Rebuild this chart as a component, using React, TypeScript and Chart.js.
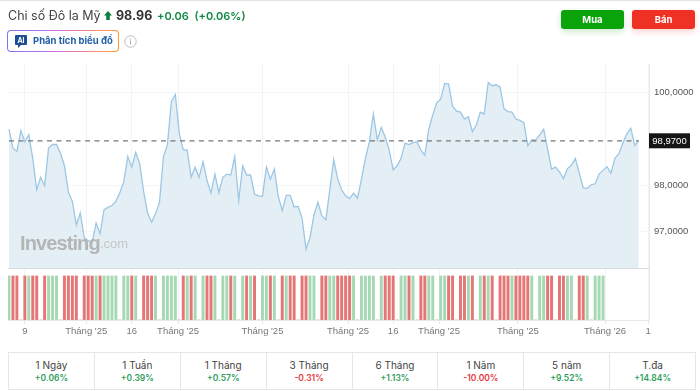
import React, { useEffect, useRef } from "react";
import { Chart, registerables } from "chart.js";

Chart.register(...registerables);

const closeValues = [
  99.21, 98.80, 98.73, 99.18, 98.94, 99.09, 98.58, 97.90, 98.17, 97.99,
  98.81, 98.88, 98.88, 98.69, 98.42, 97.85, 97.65, 97.14, 97.40, 96.87,
  96.80, 96.77, 97.18, 96.95, 97.47, 97.52, 97.56, 97.65, 97.84, 98.08,
  98.62, 98.39, 98.71, 98.47, 97.86, 97.40, 97.20, 97.38, 97.63, 98.62,
  98.87, 99.81, 99.96, 99.12, 98.77, 98.76, 98.17, 98.39, 98.17, 98.51,
  98.10, 97.83, 98.24, 97.84, 98.17, 98.24, 98.22, 98.62, 97.67, 98.42,
  98.22, 98.22, 97.81, 97.77, 97.76, 98.39, 98.13, 98.35, 97.76, 97.45,
  97.78, 97.78, 97.53, 97.54, 97.29, 96.62, 96.87, 97.36, 97.63, 97.34,
  97.25, 97.90, 98.55, 98.13, 97.90, 97.77, 97.71, 97.83, 97.72, 98.13,
  98.58, 98.94, 99.54, 98.98, 99.25, 99.04, 98.76, 98.33, 98.42, 98.58,
  98.91, 98.88, 98.92, 98.94, 98.76, 98.65, 99.21, 99.52, 99.78, 99.86,
  100.20, 100.19, 99.71, 99.60, 99.58, 99.43, 99.48, 99.16, 99.30, 99.58,
  99.54, 100.22, 100.15, 100.17, 100.12, 99.65, 99.59, 99.58, 99.43, 99.40,
  99.35, 98.85, 98.98, 98.98, 99.09, 99.21, 98.78, 98.35, 98.39, 98.29,
  98.14, 98.36, 98.43, 98.58, 98.26, 97.94, 97.93, 98.01, 98.03, 98.24,
  98.32, 98.40, 98.26, 98.58, 98.68, 98.91, 99.11, 99.23, 98.86, 98.96,
];

// 1 = up day, -1 = down day, 0 = no bar
const dayMoves = [
  1, -1, -1, 0, -1, 1, -1, -1, 0, -1, 1, 1, 1, 0, -1, -1, -1, -1, 0, -1,
  -1, -1, 1, -1, 1, 1, 1, 1, 0, 1, 1, -1, 1, 0, -1, -1, -1, 1, 0, 1,
  1, 1, 1, 0, -1, 1, -1, 1, 0, 1, -1, -1, 1, 0, 1, 1, -1, 1, 0, 1,
  -1, 1, -1, 0, 1, 1, -1, 1, 0, -1, 1, -1, -1, 0, -1, -1, 1, 1, 0, -1,
  -1, 1, 1, -1, -1, -1, -1, 1, 0, 1, 1, 1, 1, 0, 1, -1, -1, -1, 0, 1,
  1, -1, 1, 0, -1, -1, 1, 1, 0, 1, 1, -1, -1, 0, -1, -1, 1, -1, 0, 1,
  -1, 1, -1, 0, -1, -1, -1, 1, -1, -1, -1, -1, 1, 0, 1, 1, -1, -1, 0, -1,
  -1, 1, 1, 0, -1, -1, 1, 0, 1, 1, 1,
];

const lastPrice = 98.96;
const lastPriceLabel = "98,9700";
const yTickValues = [97, 98, 100];
const xTickValues = [4, 19.5, 31, 42.7, 64, 85.6, 97, 108.6, 128.5, 150.5, 161.4];
const xTickLabels = ["9", "Tháng '25", "16", "Tháng '25", "Tháng '25", "Tháng '25", "16", "Tháng '25", "Tháng '25", "Tháng '26", "1"];

const periods = ["1 Ngày", "1 Tuần", "1 Tháng", "3 Tháng", "6 Tháng", "1 Năm", "5 năm", "T.đa"];
const periodChanges = ["+0.06%", "+0.39%", "+0.57%", "-0.31%", "+1.13%", "-10.00%", "+9.52%", "+14.84%"];

const FONT = "Inter, 'Liberation Sans', Arial, sans-serif";
const AXIS_FONT = "'Liberation Sans', Arial, sans-serif";

const paneDecor = {
  id: "paneDecor",
  afterDatasetsDraw(chart: any) {
    const { ctx, chartArea, scales } = chart;
    ctx.save();
    ctx.strokeStyle = "#d5dde2";
    ctx.lineWidth = 1;
    const sy = Math.round(scales.y.bottom) + 0.5;
    ctx.beginPath();
    ctx.moveTo(chartArea.left, sy);
    ctx.lineTo(chartArea.right, sy);
    ctx.stroke();
    const py = scales.y.getPixelForValue(lastPrice);
    const bx = chartArea.right;
    ctx.fillStyle = "#151515";
    ctx.fillRect(bx, py - 7.5, 41, 15);
    ctx.fillStyle = "#ffffff";
    ctx.font = `9.5px ${AXIS_FONT}`;
    ctx.textBaseline = "middle";
    ctx.textAlign = "center";
    ctx.fillText(lastPriceLabel, bx + 20.5, py + 0.5);
    ctx.restore();
  },
};

function PriceChart() {
  const ref = useRef<HTMLCanvasElement>(null);
  useEffect(() => {
    const fixWidth = (s: any) => { s.width = 51; };
    const chart = new Chart(ref.current!, {
      type: "line",
      data: {
        datasets: [
          {
            type: "line",
            data: [{ x: 0, y: lastPrice }, { x: closeValues.length - 1, y: lastPrice }],
            yAxisID: "y",
            borderColor: "#777777",
            borderWidth: 1.2,
            borderDash: [5, 4.5],
            pointRadius: 0,
            fill: false,
          },
          {
            type: "line",
            data: closeValues.map((v, i) => ({ x: i, y: v })),
            yAxisID: "y",
            borderColor: "#9cc7e5",
            borderWidth: 1.3,
            backgroundColor: "#e4eef5",
            pointRadius: 0,
            tension: 0,
            fill: "start",
          },
          {
            type: "bar",
            data: dayMoves.map((m, i) => ({ x: i, y: Math.abs(m) })),
            yAxisID: "y2",
            barThickness: 2.3,
            borderWidth: 0,
            backgroundColor: dayMoves.map((m) => (m > 0 ? "#a6d9b3" : "#e57676")),
          },
        ],
      } as any,
      options: {
        responsive: false,
        animation: false,
        layout: { padding: { left: 8, top: 64, right: 0, bottom: 0 } },
        plugins: { legend: { display: false }, tooltip: { enabled: false } },
        scales: {
          x: {
            type: "linear",
            offset: false,
            min: -0.25,
            max: 161.6,
            afterBuildTicks: (s: any) => { s.ticks = xTickValues.map((value) => ({ value })); },
            afterFit: (s: any) => { s.height = 25; },
            ticks: {
              autoSkip: false,
              maxRotation: 0,
              padding: 2,
              color: "#777777",
              font: { family: AXIS_FONT, size: 9.5 },
              callback: (_v: any, i: number) => xTickLabels[i],
            },
            grid: { offset: false, color: "#f1f3f4", tickLength: 4, tickColor: "#e8e8e8" },
            border: { color: "#e8e8e8" },
          },
          y: {
            position: "right",
            stack: "panes",
            stackWeight: 204,
            min: 96.21,
            max: 100.62,
            afterBuildTicks: (s: any) => { s.ticks = yTickValues.map((value) => ({ value })); },
            afterFit: fixWidth,
            ticks: {
              padding: 5,
              color: "#555555",
              font: { family: AXIS_FONT, size: 9.5 },
              callback: (v: any) => Number(v).toFixed(4).replace(".", ","),
            },
            grid: { color: "#f3f5f6", drawTicks: false },
            border: { color: "#e8e8e8" },
          },
          y2: {
            position: "right",
            stack: "panes",
            stackWeight: 52,
            min: 0,
            max: 1.18,
            afterFit: fixWidth,
            ticks: { display: false },
            grid: { display: false, drawTicks: false },
            border: { color: "#e8e8e8" },
          },
        },
      } as any,
      plugins: [paneDecor],
    });
    return () => chart.destroy();
  }, []);
  return <canvas ref={ref} width={700} height={345} style={{ position: "absolute", left: 0, top: 0, display: "block" }} />;
}

export default function App() {
  const abs = (o: React.CSSProperties): React.CSSProperties => ({ position: "absolute", whiteSpace: "nowrap", ...o });
  return (
    <div style={{ position: "fixed", left: 0, top: 0, width: 700, height: 391, overflow: "hidden", background: "#fff", fontFamily: FONT }}>
      <div style={abs({ left: 0, top: 0, width: 700, height: 1, background: "#e4e4e4" })} />
      <PriceChart />

      <div style={abs({ left: 8, top: 7, fontSize: 12.5, lineHeight: "18px", color: "#444" })}>Chi số Đô la Mỹ</div>
      <svg style={abs({ left: 104, top: 11 })} width="8" height="9" viewBox="0 0 9 10"><path d="M4.5 0 L9 5 H6.5 V10 H2.5 V5 H0 Z" fill="#0a7f3a" /></svg>
      <div style={abs({ left: 116, top: 7, fontSize: 12.5, lineHeight: "18px", fontWeight: 700, color: "#333" })}>98.96</div>
      <div style={abs({ left: 157, top: 7, fontSize: 11, lineHeight: "18px", fontWeight: 600, color: "#0f8a43" })}>+0.06&nbsp;&nbsp;(+0.06%)</div>

      <div style={abs({ left: 7, top: 30, width: 112, height: 22, borderRadius: 4, padding: 1, boxSizing: "border-box", background: "linear-gradient(90deg,#7a78f0,#d070e0 45%,#ff8a70 80%,#ff9a30)" })}>
        <div style={{ width: "100%", height: "100%", borderRadius: 3, background: "#fff" }} />
      </div>
      <svg style={abs({ left: 15, top: 35 })} width="12" height="13" viewBox="0 0 12 13"><path d="M1 0 H11 Q12 0 12 1 V9 Q12 10 11 10 H6 L3 13 V10 H1 Q0 10 0 9 V1 Q0 0 1 0 Z" fill="#1b4f91" /><text x="6" y="7.8" textAnchor="middle" fontSize="7" fontWeight="700" fill="#fff" fontFamily={FONT}>AI</text></svg>
      <div style={abs({ left: 33, top: 34, fontSize: 9.5, lineHeight: "14px", fontWeight: 700, color: "#1f5ea8" })}>Phân tích biểu đồ</div>
      <svg style={abs({ left: 124, top: 35 })} width="13" height="13" viewBox="0 0 13 13"><circle cx="6.5" cy="6.5" r="5.7" fill="none" stroke="#bdbdbd" strokeWidth="1" /><rect x="6" y="5.5" width="1" height="4" fill="#aaa" /><rect x="6" y="3.5" width="1" height="1" fill="#aaa" /></svg>

      <div style={abs({ left: 561, top: 10, width: 63, height: 19, borderRadius: 3, background: "#0aa30a", color: "#fff", fontSize: 9.5, fontWeight: 700, textAlign: "center", lineHeight: "19px", boxShadow: "0 3px 6px rgba(10,163,10,.2)" })}>Mua</div>
      <div style={abs({ left: 632, top: 10, width: 63, height: 19, borderRadius: 3, background: "#ee3124", color: "#fff", fontSize: 9.5, fontWeight: 700, textAlign: "center", lineHeight: "19px", boxShadow: "0 3px 6px rgba(238,49,36,.2)" })}>Bán</div>

      <div style={abs({ left: 20, top: 230, fontFamily: AXIS_FONT, fontSize: 20, lineHeight: "26px", fontWeight: 700, letterSpacing: -0.9, color: "#b4b6b6" })}>Investing</div>
      <div style={abs({ left: 100, top: 235, fontFamily: AXIS_FONT, fontSize: 13, lineHeight: "18px", color: "#c4c6c6" })}>.com</div>

      <div style={abs({ left: 8, top: 352, width: 688, height: 38, boxSizing: "border-box", border: "1px solid #e6e6e6", display: "flex" })}>
        {periods.map((p, i) => (
          <div key={p} style={{ flex: 1, textAlign: "center", borderLeft: i ? "1px solid #e6e6e6" : "none", paddingTop: 5 }}>
            <div style={{ fontSize: 10, lineHeight: "14px", color: "#444" }}>{p}</div>
            <div style={{ fontSize: 8.5, lineHeight: "12px", fontWeight: 600, color: periodChanges[i].startsWith("-") ? "#e5383b" : "#2e9e5b" }}>{periodChanges[i]}</div>
          </div>
        ))}
      </div>
    </div>
  );
}
